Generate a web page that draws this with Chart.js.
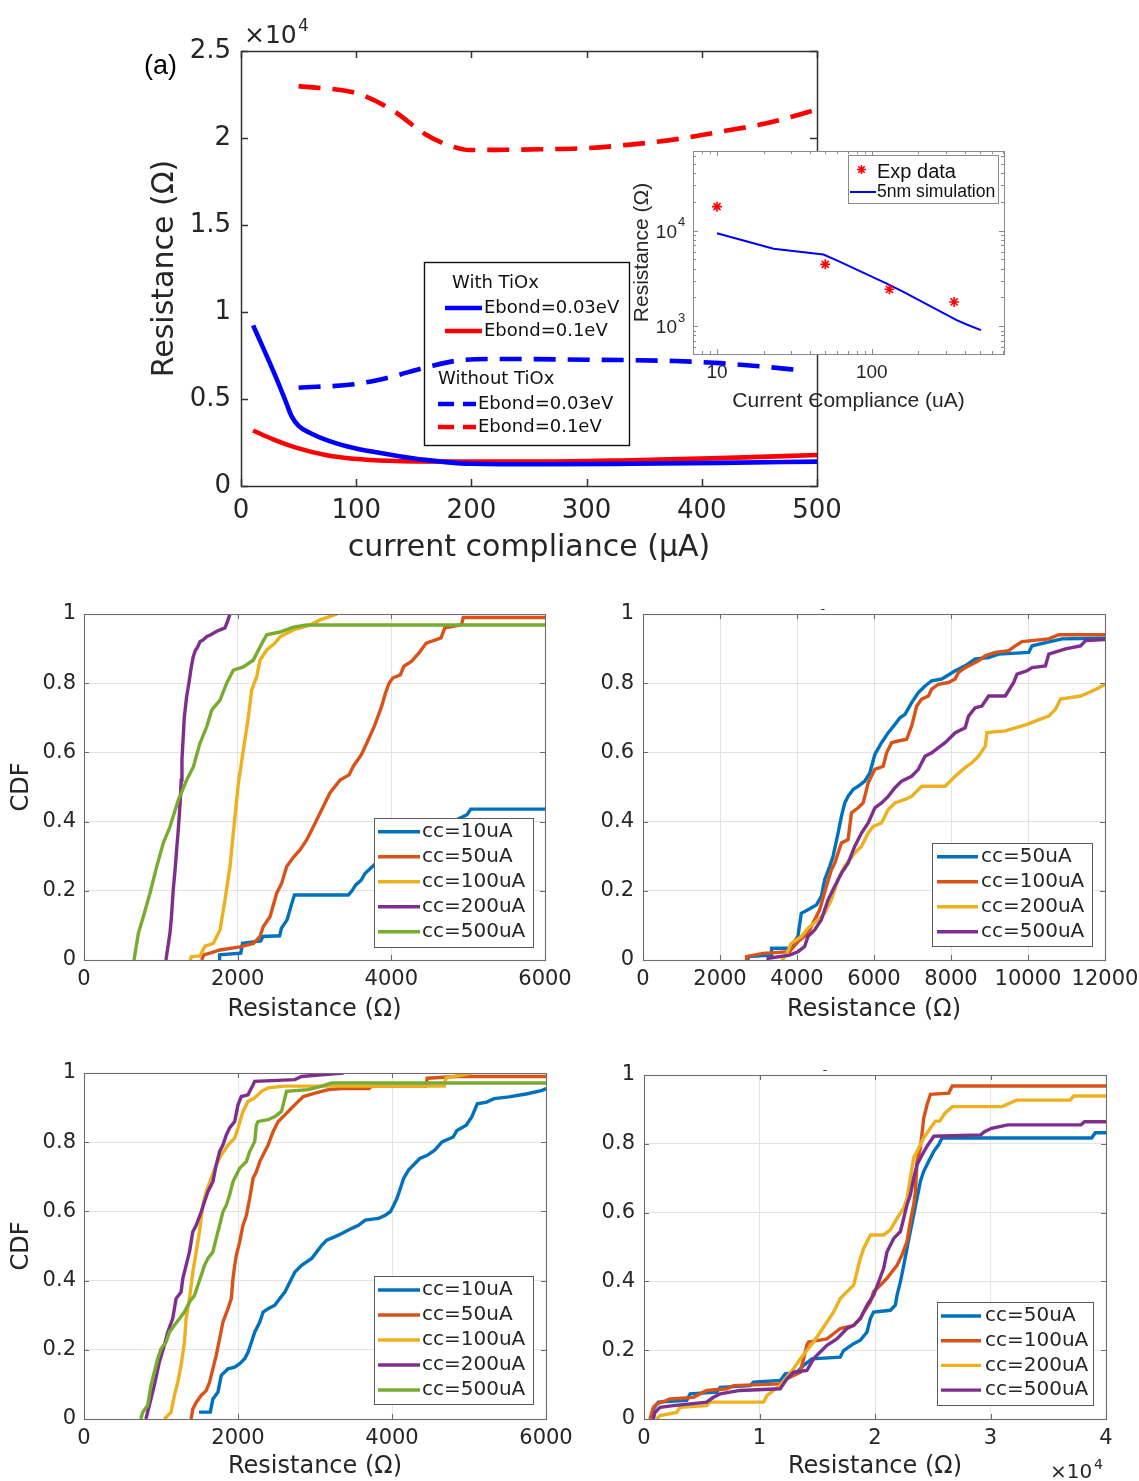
<!DOCTYPE html>
<html>
<head>
<meta charset="utf-8">
<title>Resistance vs current compliance and CDF panels</title>
<script src="https://cdn.jsdelivr.net/npm/chart.js@4.4.1/dist/chart.umd.min.js"></script>
<style>
  html, body { margin: 0; padding: 0; background: #ffffff; }
  #page { position: relative; width: 1139px; height: 1481px; overflow: hidden; background: #ffffff; }
  #page canvas { position: absolute; left: 0; top: 0; }
</style>
</head>
<body>
<div id="page">
  <canvas id="cMain" width="1139" height="1481"></canvas>
  <canvas id="cB" width="1139" height="1481"></canvas>
  <canvas id="cC" width="1139" height="1481"></canvas>
  <canvas id="cD" width="1139" height="1481"></canvas>
  <canvas id="cE" width="1139" height="1481"></canvas>
  <canvas id="cInset" width="1139" height="1481"></canvas>
</div>
<script>
// ---------------------------------------------------------------
// (a) Resistance (x1e4 ohm) versus current compliance (uA)
// ---------------------------------------------------------------
const ccWithTiOx003 = [10.5, 20, 30, 38, 44, 50, 60, 75, 98, 129, 160, 199, 261, 338, 416, 500];
const rWithTiOx003  = [0.923, 0.782, 0.63, 0.50, 0.40, 0.345, 0.305, 0.262, 0.218, 0.181, 0.150, 0.128, 0.125, 0.128, 0.133, 0.140];
const ccWithTiOx01  = [10.5, 28, 47, 74.5, 98, 129, 183, 261, 338, 416, 500];
const rWithTiOx01   = [0.319, 0.268, 0.222, 0.177, 0.157, 0.145, 0.140, 0.140, 0.148, 0.160, 0.178];
const ccNoTiOx003   = [50, 98, 129, 160, 195, 222, 300, 377, 416, 455, 486];
const rNoTiOx003    = [0.565, 0.585, 0.625, 0.681, 0.726, 0.730, 0.726, 0.718, 0.706, 0.685, 0.665];
const ccNoTiOx01    = [50, 102, 133, 160, 179, 199, 222, 261, 300, 338, 377, 416, 455, 500];
const rNoTiOx01     = [2.298, 2.254, 2.153, 2.022, 1.962, 1.931, 1.932, 1.935, 1.942, 1.962, 1.992, 2.036, 2.083, 2.163];
const mainXTicks = [0, 100, 200, 300, 400, 500];
const mainYTicks = [0, 0.5, 1, 1.5, 2, 2.5];

// Inset: log-log resistance vs compliance
const expCC   = [10, 50, 130, 340];
const expR    = [17800, 4430, 2430, 1790];
const simCC   = [10, 23.2, 48.7, 59.4, 125, 160, 353, 410, 507];
const simR    = [9380, 6440, 5620, 4870, 2780, 2280, 1155, 1040, 908];
const insetXMajor = [10, 100];
const insetXMinor = [8, 9, 20, 30, 40, 50, 60, 70, 80, 90, 200, 300, 400, 500, 600, 700];
const insetYMajor = [1000, 10000];
const insetYMinor = [600, 700, 800, 900, 2000, 3000, 4000, 5000, 6000, 7000, 8000, 9000, 20000, 30000, 40000, 50000, 60000];

// ---------------------------------------------------------------
// CDF panels: [resistance, cumulative fraction] pairs
// ---------------------------------------------------------------
const namesB = ['cc=10uA', 'cc=50uA', 'cc=100uA', 'cc=200uA', 'cc=500uA'];
const cdfB10 = [[1758,0],[1765,0.015],[2040,0.02],[2063,0.048],[2300,0.055],[2329,0.068],[2546,0.07],[2570,0.092],[2643,0.116],[2700,0.16],[2739,0.188],[3440,0.188],[3488,0.2],[3536,0.217],[3609,0.231],[3657,0.25],[3730,0.265],[3900,0.3],[4200,0.34],[4500,0.37],[4800,0.4],[4985,0.42],[5034,0.436],[6000,0.436]];
const cdfB50 = [[1531,0],[1560,0.015],[1640,0.02],[1770,0.029],[2030,0.038],[2204,0.048],[2291,0.068],[2334,0.097],[2421,0.125],[2508,0.193],[2573,0.222],[2638,0.27],[2725,0.297],[2811,0.318],[2898,0.347],[2985,0.385],[3071,0.424],[3201,0.483],[3332,0.52],[3450,0.535],[3505,0.56],[3609,0.593],[3681,0.627],[3778,0.675],[3874,0.733],[3923,0.771],[3971,0.80],[4019,0.815],[4116,0.824],[4164,0.849],[4261,0.863],[4358,0.887],[4454,0.916],[4647,0.931],[4696,0.96],[4913,0.969],[4937,0.99],[6000,0.99]];
const cdfB100 = [[1380,0],[1400,0.01],[1510,0.012],[1575,0.04],[1683,0.048],[1770,0.087],[1835,0.173],[1900,0.27],[1965,0.414],[2009,0.51],[2074,0.607],[2139,0.702],[2182,0.78],[2247,0.818],[2291,0.867],[2378,0.896],[2486,0.916],[2551,0.934],[2725,0.954],[2941,0.968],[3071,0.983],[3295,1.0]];
const cdfB200 = [[1067,0],[1080,0.02],[1100,0.05],[1120,0.08],[1140,0.13],[1160,0.2],[1185,0.26],[1206,0.32],[1225,0.37],[1241,0.42],[1255,0.47],[1265,0.52],[1275,0.58],[1290,0.64],[1305,0.7],[1335,0.76],[1365,0.8],[1395,0.845],[1420,0.875],[1450,0.895],[1480,0.905],[1510,0.92],[1550,0.925],[1600,0.935],[1650,0.94],[1727,0.95],[1835,0.96],[1870,0.98],[1900,1.0]];
const cdfB500 = [[651,0],[707,0.077],[772,0.125],[859,0.193],[946,0.27],[1032,0.338],[1119,0.385],[1227,0.462],[1336,0.52],[1423,0.558],[1510,0.627],[1597,0.674],[1662,0.722],[1770,0.751],[1857,0.80],[1944,0.838],[2074,0.847],[2204,0.867],[2291,0.905],[2378,0.94],[2551,0.948],[2725,0.962],[2898,0.968],[6000,0.968]];

const namesC = ['cc=50uA', 'cc=100uA', 'cc=200uA', 'cc=500uA'];
const cdfC50 = [[2721,0],[2740,0.01],[3329,0.014],[3340,0.034],[3807,0.034],[4024,0.068],[4111,0.135],[4285,0.145],[4502,0.159],[4632,0.184],[4719,0.232],[4850,0.271],[4937,0.30],[5067,0.367],[5154,0.415],[5241,0.454],[5327,0.473],[5458,0.493],[5588,0.502],[5762,0.517],[5892,0.541],[6022,0.594],[6196,0.628],[6370,0.657],[6544,0.681],[6674,0.70],[6805,0.71],[6978,0.744],[7152,0.773],[7326,0.792],[7499,0.807],[7760,0.812],[8108,0.836],[8368,0.85],[8629,0.87],[8977,0.874],[9237,0.884],[10019,0.889],[10106,0.908],[10887,0.928],[12000,0.93]];
const cdfC100 = [[2678,0],[2690,0.01],[3112,0.019],[3807,0.024],[4024,0.053],[4285,0.077],[4459,0.116],[4589,0.145],[4763,0.213],[4893,0.261],[4980,0.28],[5067,0.309],[5154,0.338],[5327,0.348],[5414,0.425],[5588,0.44],[5718,0.454],[5849,0.512],[6022,0.551],[6240,0.56],[6327,0.599],[6457,0.628],[6631,0.633],[6848,0.638],[6978,0.676],[7109,0.734],[7239,0.754],[7413,0.763],[7499,0.783],[7673,0.797],[7934,0.802],[8108,0.812],[8195,0.831],[8368,0.845],[8542,0.855],[8716,0.865],[8890,0.879],[9150,0.889],[9497,0.894],[9671,0.908],[9845,0.92],[10540,0.928],[10800,0.94],[12000,0.94]];
const cdfC200 = [[3600,0],[3700,0.01],[3851,0.048],[4111,0.068],[4285,0.092],[4545,0.116],[4719,0.135],[4893,0.174],[5067,0.232],[5241,0.271],[5501,0.309],[5675,0.329],[5849,0.367],[5979,0.386],[6196,0.396],[6370,0.435],[6544,0.454],[6805,0.464],[6978,0.473],[7239,0.502],[7847,0.502],[8108,0.531],[8368,0.556],[8542,0.57],[8716,0.589],[8890,0.618],[8933,0.657],[9411,0.662],[9671,0.671],[9975,0.681],[10323,0.696],[10540,0.705],[10714,0.725],[10844,0.754],[11366,0.763],[11583,0.773],[11844,0.787],[12000,0.797]];
const cdfC500 = [[3242,0],[3250,0.005],[3807,0.014],[4024,0.024],[4198,0.039],[4285,0.068],[4459,0.087],[4632,0.116],[4806,0.174],[4980,0.213],[5154,0.251],[5327,0.28],[5501,0.329],[5675,0.367],[5849,0.396],[6022,0.44],[6196,0.454],[6370,0.473],[6544,0.498],[6718,0.517],[6978,0.531],[7152,0.551],[7326,0.589],[7499,0.599],[7673,0.614],[7847,0.628],[8108,0.657],[8368,0.671],[8455,0.705],[8629,0.729],[8803,0.734],[8977,0.763],[9411,0.763],[9628,0.802],[9715,0.826],[9975,0.836],[10106,0.845],[10453,0.85],[10540,0.884],[10974,0.899],[11366,0.908],[11496,0.923],[12000,0.926]];

const namesD = ['cc=10uA', 'cc=50uA', 'cc=100uA', 'cc=200uA', 'cc=500uA'];
const cdfD10 = [[1494,0.02],[1640,0.02],[1674,0.058],[1739,0.077],[1783,0.126],[1870,0.145],[1957,0.15],[2022,0.16],[2087,0.174],[2130,0.193],[2174,0.222],[2217,0.251],[2283,0.28],[2326,0.309],[2391,0.319],[2478,0.329],[2543,0.348],[2609,0.367],[2674,0.396],[2739,0.425],[2826,0.444],[2891,0.454],[2957,0.464],[3022,0.483],[3087,0.502],[3152,0.517],[3261,0.527],[3348,0.536],[3478,0.551],[3565,0.56],[3652,0.575],[3826,0.58],[3913,0.589],[3978,0.599],[4022,0.618],[4065,0.638],[4109,0.667],[4152,0.696],[4217,0.72],[4304,0.74],[4361,0.753],[4458,0.762],[4554,0.777],[4650,0.801],[4795,0.815],[4843,0.834],[4964,0.849],[5036,0.873],[5108,0.911],[5229,0.916],[5325,0.926],[5518,0.931],[5759,0.94],[5952,0.95],[6000,0.955]];
const cdfD50 = [[1391,0],[1413,0.029],[1457,0.048],[1522,0.068],[1587,0.082],[1630,0.106],[1674,0.145],[1717,0.184],[1761,0.232],[1804,0.28],[1870,0.319],[1913,0.348],[1935,0.406],[1957,0.444],[1978,0.473],[2022,0.512],[2065,0.56],[2109,0.589],[2152,0.638],[2196,0.696],[2239,0.715],[2283,0.744],[2348,0.773],[2391,0.792],[2457,0.831],[2522,0.86],[2609,0.879],[2696,0.899],[2783,0.918],[2848,0.932],[3000,0.942],[3174,0.952],[3348,0.955],[3700,0.955],[3735,0.962],[4440,0.962],[4458,0.985],[4843,0.99],[6000,0.99]];
const cdfD100 = [[1043,0],[1130,0.019],[1174,0.068],[1217,0.106],[1261,0.155],[1304,0.222],[1326,0.29],[1370,0.348],[1413,0.425],[1457,0.483],[1500,0.541],[1543,0.618],[1587,0.657],[1652,0.696],[1717,0.734],[1783,0.763],[1870,0.792],[1957,0.812],[2000,0.841],[2065,0.889],[2130,0.918],[2217,0.928],[2304,0.947],[2391,0.957],[2600,0.962],[4680,0.962],[4700,0.985],[4800,0.99],[5036,1.0]];
const cdfD200 = [[804,0],[870,0.058],[913,0.097],[978,0.164],[1043,0.213],[1087,0.251],[1152,0.29],[1196,0.348],[1261,0.367],[1283,0.406],[1326,0.444],[1370,0.483],[1413,0.541],[1457,0.56],[1522,0.599],[1565,0.628],[1609,0.657],[1674,0.686],[1717,0.734],[1761,0.773],[1804,0.792],[1848,0.821],[1891,0.841],[1957,0.86],[2000,0.908],[2043,0.932],[2130,0.937],[2196,0.966],[2217,0.976],[2739,0.981],[2826,0.99],[3087,0.995],[3373,1.0]];
const cdfD500 = [[739,0],[761,0.019],[826,0.039],[870,0.097],[913,0.135],[957,0.174],[1000,0.203],[1065,0.222],[1109,0.251],[1174,0.271],[1239,0.29],[1304,0.309],[1370,0.338],[1435,0.357],[1478,0.386],[1522,0.415],[1565,0.444],[1609,0.464],[1674,0.483],[1717,0.522],[1761,0.56],[1804,0.599],[1848,0.618],[1891,0.647],[1935,0.686],[1978,0.705],[2022,0.725],[2109,0.744],[2152,0.773],[2217,0.802],[2239,0.85],[2261,0.86],[2391,0.865],[2478,0.874],[2565,0.889],[2609,0.928],[2630,0.947],[2913,0.952],[3087,0.962],[3217,0.971],[6000,0.971]];

// panel E resistance is in units of 1e4 ohm
const namesE = ['cc=50uA', 'cc=100uA', 'cc=200uA', 'cc=500uA'];
const cdfE50 = [[0.066,0],[0.081,0.029],[0.124,0.049],[0.37,0.054],[0.399,0.073],[0.63,0.078],[0.659,0.092],[0.919,0.097],[0.948,0.107],[1.179,0.112],[1.223,0.131],[1.324,0.136],[1.382,0.156],[1.454,0.175],[1.699,0.18],[1.728,0.199],[1.815,0.219],[1.873,0.229],[1.931,0.253],[1.96,0.292],[1.988,0.311],[2.133,0.316],[2.176,0.331],[2.191,0.36],[2.22,0.399],[2.249,0.447],[2.277,0.496],[2.306,0.545],[2.335,0.593],[2.364,0.642],[2.393,0.691],[2.422,0.72],[2.465,0.749],[2.509,0.778],[2.552,0.798],[2.581,0.817],[3.876,0.817],[3.907,0.832],[4,0.832]];
const cdfE100 = [[0.052,0],[0.081,0.034],[0.11,0.044],[0.197,0.054],[0.225,0.058],[0.428,0.063],[0.543,0.083],[0.717,0.088],[0.775,0.097],[1.179,0.102],[1.237,0.117],[1.353,0.136],[1.41,0.214],[1.425,0.224],[1.584,0.233],[1.699,0.263],[1.815,0.272],[1.873,0.292],[1.902,0.311],[1.96,0.34],[1.988,0.37],[2.046,0.389],[2.104,0.409],[2.147,0.428],[2.191,0.447],[2.234,0.477],[2.277,0.516],[2.306,0.574],[2.335,0.623],[2.35,0.661],[2.364,0.749],[2.393,0.788],[2.422,0.875],[2.451,0.914],[2.48,0.944],[2.638,0.947],[2.669,0.968],[4,0.968]];
const cdfE200 = [[0.11,0],[0.139,0.01],[0.283,0.019],[0.312,0.034],[0.543,0.039],[0.572,0.049],[1.035,0.049],[1.064,0.068],[1.121,0.083],[1.179,0.097],[1.237,0.122],[1.295,0.146],[1.353,0.175],[1.41,0.199],[1.468,0.224],[1.526,0.253],[1.584,0.282],[1.642,0.311],[1.699,0.35],[1.757,0.37],[1.815,0.389],[1.844,0.428],[1.873,0.467],[1.902,0.496],[1.96,0.535],[2.075,0.535],[2.133,0.55],[2.191,0.584],[2.249,0.613],[2.277,0.642],[2.306,0.7],[2.335,0.759],[2.379,0.788],[2.422,0.817],[2.48,0.846],[2.523,0.866],[2.56,0.866],[2.606,0.889],[2.669,0.908],[3.102,0.908],[3.164,0.918],[3.226,0.927],[3.69,0.927],[3.721,0.939],[4,0.939]];
const cdfE500 = [[0.081,0],[0.095,0.019],[0.139,0.034],[0.254,0.039],[0.543,0.049],[0.601,0.063],[0.659,0.073],[0.832,0.083],[1.179,0.088],[1.237,0.117],[1.295,0.136],[1.41,0.141],[1.468,0.175],[1.526,0.195],[1.584,0.214],[1.67,0.233],[1.757,0.263],[1.815,0.272],[1.873,0.292],[1.931,0.331],[1.988,0.36],[2.032,0.399],[2.075,0.438],[2.104,0.486],[2.162,0.525],[2.22,0.545],[2.249,0.584],[2.277,0.623],[2.306,0.652],[2.335,0.7],[2.364,0.739],[2.408,0.768],[2.451,0.793],[2.509,0.822],[2.916,0.826],[2.947,0.835],[3.009,0.845],[3.149,0.855],[3.783,0.855],[3.814,0.864],[4,0.864]];

// ---------------------------------------------------------------
// Shared styling
// ---------------------------------------------------------------
const PAGE_W = 1139, PAGE_H = 1481;
const INK = '#262626';
const GRID = '#e3e3e3';
const SANS = '"DejaVu Sans", "Noto Sans", sans-serif';
const ARIAL = '"Liberation Sans", Arial, sans-serif';
const LINES = ['#0072BD', '#D95319', '#EDB120', '#7E2F8E', '#77AC30'];

// tick text without trailing zeros: 0, 0.2, 1, 1.5, 2000
const plainNumber = (v) => String(Math.round(v * 1000) / 1000);

// padding that puts the plot area at a fixed spot on the page
function placeArea(area, yBand, xBand) {
  return { padding: { left: area.l - yBand, top: area.t, right: PAGE_W - area.r, bottom: PAGE_H - area.b - xBand } };
}

function xAxis(c) {
  const ax = {
    type: c.type || 'linear', position: 'bottom', min: c.min, max: c.max,
    ticks: {
      autoSkip: false, maxRotation: 0, minRotation: 0, padding: c.pad, color: INK,
      font: { family: c.family || SANS, size: c.size },
      callback: plainNumber
    },
    grid: { display: !!c.grid, color: GRID, lineWidth: 1, drawTicks: false },
    border: { display: false },
    title: { display: !!c.title, text: c.title, color: INK, font: { family: c.titleFamily || SANS, size: c.titleSize }, padding: 0 },
    afterFit: (s) => { s.height = c.band; s.paddingLeft = 0; s.paddingRight = 0; }
  };
  if (c.step) ax.ticks.stepSize = c.step;
  if (c.only) ax.afterBuildTicks = (s) => { s.ticks = c.only.map(v => ({ value: v })); };
  return ax;
}

function yAxis(c) {
  const ax = {
    type: c.type || 'linear', position: 'left', min: c.min, max: c.max,
    ticks: {
      display: c.labels !== false, autoSkip: false, padding: c.pad, color: INK,
      font: { family: c.family || SANS, size: c.size },
      callback: plainNumber
    },
    grid: { display: !!c.grid, color: GRID, lineWidth: 1, drawTicks: false },
    border: { display: false },
    title: { display: !!c.title, text: c.title, color: INK, font: { family: c.titleFamily || SANS, size: c.titleSize }, padding: 0 },
    afterFit: (s) => { s.width = c.band; s.paddingTop = 0; s.paddingBottom = 0; }
  };
  if (c.step) ax.ticks.stepSize = c.step;
  if (c.only) ax.afterBuildTicks = (s) => { s.ticks = c.only.map(v => ({ value: v })); };
  return ax;
}

// box around the plot area with inward tick marks on all four sides
function framePlugin(cfg) {
  return {
    id: 'frame',
    beforeDraw(chart) {
      if (!cfg.fill) return;
      const a = chart.chartArea, ctx = chart.ctx;
      ctx.save();
      ctx.fillStyle = cfg.fill;
      ctx.fillRect(a.left, a.top, a.right - a.left, a.bottom - a.top);
      ctx.restore();
    },
    afterDatasetsDraw(chart) {
      const { ctx, chartArea: a } = chart;
      const sx = chart.scales.x, sy = chart.scales.y;
      ctx.save();
      ctx.strokeStyle = cfg.color;
      ctx.lineWidth = cfg.width;
      ctx.beginPath();
      const xMarks = (vals, len) => vals.forEach(v => {
        const p = Math.round(sx.getPixelForValue(v)) + 0.5;
        ctx.moveTo(p, a.bottom); ctx.lineTo(p, a.bottom - len);
        ctx.moveTo(p, a.top); ctx.lineTo(p, a.top + len);
      });
      const yMarks = (vals, len) => vals.forEach(v => {
        const p = Math.round(sy.getPixelForValue(v)) + 0.5;
        ctx.moveTo(a.left, p); ctx.lineTo(a.left + len, p);
        ctx.moveTo(a.right, p); ctx.lineTo(a.right - len, p);
      });
      xMarks(sx.ticks.map(t => t.value), cfg.tick);
      yMarks(sy.ticks.map(t => t.value), cfg.tick);
      if (cfg.minorX) xMarks(cfg.minorX, cfg.minorTick);
      if (cfg.minorY) yMarks(cfg.minorY, cfg.minorTick);
      ctx.stroke();
      ctx.strokeRect(Math.round(a.left) + 0.5, Math.round(a.top) + 0.5,
                     Math.round(a.right - a.left), Math.round(a.bottom - a.top));
      ctx.restore();
    }
  };
}

// legend box listing every dataset with a line sample
function keyPlugin(k) {
  return {
    id: 'key',
    afterDatasetsDraw(chart) {
      const ctx = chart.ctx;
      ctx.save();
      ctx.fillStyle = '#ffffff';
      ctx.fillRect(k.x, k.y, k.w, k.h);
      ctx.strokeStyle = k.edge;
      ctx.lineWidth = 1;
      ctx.strokeRect(k.x + 0.5, k.y + 0.5, k.w, k.h);
      ctx.font = k.font;
      ctx.textBaseline = 'middle';
      ctx.textAlign = 'left';
      chart.data.datasets.forEach((ds, i) => {
        const yy = k.row0 + i * k.step;
        ctx.strokeStyle = ds.borderColor;
        ctx.lineWidth = ds.borderWidth;
        ctx.beginPath(); ctx.moveTo(k.x0, yy); ctx.lineTo(k.x1, yy); ctx.stroke();
        ctx.fillStyle = INK;
        ctx.fillText(ds.label, k.tx, yy);
      });
      ctx.restore();
    }
  };
}

// free-standing text: panel letter, axis multipliers
function notesPlugin(items) {
  return {
    id: 'notes',
    afterDraw(chart) {
      const ctx = chart.ctx;
      items.forEach(n => {
        ctx.save();
        ctx.font = n.font;
        ctx.fillStyle = n.color || INK;
        ctx.textAlign = n.align || 'left';
        ctx.textBaseline = n.base || 'alphabetic';
        ctx.fillText(n.text, n.x, n.y);
        ctx.restore();
      });
    }
  };
}

const baseOptions = {
  responsive: false, animation: false, devicePixelRatio: 1, events: [],
};

// ---------------------------------------------------------------
// (a) main chart
// ---------------------------------------------------------------
(function () {
  const area = { l: 241, r: 817, t: 51, b: 486 };
  const yBand = 94, xBand = 80;
  const toXY = (xs, ys) => xs.map((x, i) => ({ x: x, y: ys[i] }));
  const legendItems = [
    { header: 'With TiOx', x: 452, y: 283 },
    { ds: 0, x0: 445, x1: 482, tx: 484, y: 308 },
    { ds: 1, x0: 445, x1: 482, tx: 484, y: 331 },
    { header: 'Without TiOx', x: 438, y: 379 },
    { ds: 2, x0: 438, x1: 476, tx: 478, y: 404, dash: [16, 9] },
    { ds: 3, x0: 438, x1: 476, tx: 478, y: 427, dash: [16, 9] }
  ];
  const tioxKey = {
    id: 'tioxKey',
    afterDatasetsDraw(chart) {
      const ctx = chart.ctx;
      ctx.save();
      ctx.strokeStyle = '#111111';
      ctx.lineWidth = 1.4;
      ctx.strokeRect(424.5, 262.5, 205, 183);
      ctx.font = '18px ' + SANS;
      ctx.textBaseline = 'middle';
      ctx.textAlign = 'left';
      ctx.fillStyle = '#111111';
      legendItems.forEach(it => {
        if (it.header) { ctx.fillText(it.header, it.x, it.y); return; }
        const ds = chart.data.datasets[it.ds];
        ctx.strokeStyle = ds.borderColor;
        ctx.lineWidth = ds.borderWidth;
        ctx.setLineDash(it.dash || []);
        ctx.beginPath(); ctx.moveTo(it.x0, it.y); ctx.lineTo(it.x1, it.y); ctx.stroke();
        ctx.setLineDash([]);
        ctx.fillText(ds.label, it.tx, it.y);
      });
      ctx.restore();
    }
  };
  const common = { pointRadius: 0, borderWidth: 4.6, fill: false, tension: 0.4, cubicInterpolationMode: 'monotone' };
  new Chart(document.getElementById('cMain'), {
    type: 'line',
    data: {
      datasets: [
        Object.assign({ label: 'Ebond=0.03eV', data: toXY(ccWithTiOx003, rWithTiOx003), borderColor: '#0000ff' }, common),
        Object.assign({ label: 'Ebond=0.1eV', data: toXY(ccWithTiOx01, rWithTiOx01), borderColor: '#ff0000' }, common),
        Object.assign({ label: 'Ebond=0.03eV', data: toXY(ccNoTiOx003, rNoTiOx003), borderColor: '#0000ff', borderDash: [22, 12] }, common),
        Object.assign({ label: 'Ebond=0.1eV', data: toXY(ccNoTiOx01, rNoTiOx01), borderColor: '#ff0000', borderDash: [22, 12] }, common)
      ]
    },
    options: Object.assign({}, baseOptions, {
      layout: placeArea(area, yBand, xBand),
      plugins: { legend: { display: false }, tooltip: { enabled: false } },
      scales: {
        x: xAxis({ min: 0, max: 500, only: mainXTicks, pad: 10, size: 26, title: 'current compliance (\u03bcA)', titleSize: 30, band: xBand }),
        y: yAxis({ min: 0, max: 2.5, only: mainYTicks, pad: 10, size: 26, title: 'Resistance (\u03a9)', titleSize: 30, band: yBand })
      }
    }),
    plugins: [
      framePlugin({ color: '#333333', width: 1.5, tick: 7 }),
      tioxKey,
      notesPlugin([
        { text: '(a)', x: 144, y: 74, font: '27px ' + ARIAL, color: '#000000' },
        { text: '\u00d710', x: 244, y: 43, font: '25px ' + SANS },
        { text: '4', x: 298, y: 31, font: '17px ' + SANS }
      ])
    ]
  });
})();

// ---------------------------------------------------------------
// CDF panels
// ---------------------------------------------------------------
function cdfPanel(id, cfg) {
  const datasets = cfg.series.map((s, i) => ({
    label: cfg.names[i], data: s, borderColor: LINES[i], borderWidth: 3.4,
    pointRadius: 0, tension: 0, fill: false, order: -i
  }));
  new Chart(document.getElementById(id), {
    type: 'line',
    data: { datasets: datasets },
    options: Object.assign({}, baseOptions, {
      layout: placeArea(cfg.area, cfg.yBand, cfg.xBand),
      plugins: { legend: { display: false }, tooltip: { enabled: false } },
      scales: {
        x: xAxis({ min: 0, max: cfg.xMax, step: cfg.xStep, pad: 7.4, size: 21, grid: true, title: 'Resistance (\u03a9)', titleSize: 24, band: cfg.xBand }),
        y: yAxis({ min: 0, max: 1, step: 0.2, pad: cfg.yPad, size: 21, grid: true, title: cfg.yTitle, titleSize: 24, band: cfg.yBand })
      }
    }),
    plugins: [
      framePlugin({ color: '#6e6e6e', width: 1.1, tick: 5 }),
      keyPlugin(cfg.key),
      notesPlugin(cfg.notes || [])
    ]
  });
}

cdfPanel('cB', {
  area: { l: 84, r: 545, t: 614, b: 960 }, yBand: 76.4, xBand: 64.4, yPad: 8, yTitle: 'CDF',
  xMax: 6000, xStep: 2000, names: namesB, series: [cdfB10, cdfB50, cdfB100, cdfB200, cdfB500],
  key: { x: 374, y: 818, w: 159, h: 129, row0: 831.7, step: 25, x0: 378, x1: 420, tx: 422, font: '20px ' + SANS, edge: '#5a5a5a' }
});

cdfPanel('cC', {
  area: { l: 643, r: 1105, t: 614, b: 960 }, yBand: 60, xBand: 64.4, yPad: 9, yTitle: '',
  xMax: 12000, xStep: 2000, names: namesC, series: [cdfC50, cdfC100, cdfC200, cdfC500],
  key: { x: 932, y: 843, w: 160, h: 103, row0: 856.7, step: 25, x0: 937, x1: 978, tx: 981, font: '20px ' + SANS, edge: '#5a5a5a' },
  notes: [{ text: '-', x: 823, y: 610, font: '12px ' + SANS, align: 'center', base: 'middle' }]
});

cdfPanel('cD', {
  area: { l: 84, r: 546, t: 1073, b: 1419 }, yBand: 76.4, xBand: 62.4, yPad: 8, yTitle: 'CDF',
  xMax: 6000, xStep: 2000, names: namesD, series: [cdfD10, cdfD50, cdfD100, cdfD200, cdfD500],
  key: { x: 374, y: 1276, w: 159, h: 128, row0: 1290, step: 25, x0: 378, x1: 420, tx: 422, font: '20px ' + SANS, edge: '#5a5a5a' }
});

cdfPanel('cE', {
  area: { l: 644, r: 1106, t: 1075, b: 1419 }, yBand: 60, xBand: 62.4, yPad: 9, yTitle: '',
  xMax: 4, xStep: 1, names: namesE, series: [cdfE50, cdfE100, cdfE200, cdfE500],
  key: { x: 937, y: 1302, w: 156, h: 103, row0: 1316, step: 24.7, x0: 941, x1: 981, tx: 985, font: '20px ' + SANS, edge: '#5a5a5a' },
  notes: [
    { text: '-', x: 825, y: 1071, font: '12px ' + SANS, align: 'center', base: 'middle' },
    { text: '\u00d710', x: 1050, y: 1478, font: '20px ' + SANS },
    { text: '4', x: 1094, y: 1469, font: '14px ' + SANS }
  ]
});

// ---------------------------------------------------------------
// Inset: log-log comparison of experiment and simulation
// ---------------------------------------------------------------
(function () {
  const area = { l: 693, r: 1004, t: 151, b: 354 };
  const yBand = 63.6, xBand = 60.1;
  const powLabels = {
    id: 'powLabels',
    afterDraw(chart) {
      const ctx = chart.ctx, sy = chart.scales.y;
      ctx.save();
      ctx.fillStyle = INK;
      insetYMajor.forEach(v => {
        const p = sy.getPixelForValue(v);
        const e = String(Math.round(Math.log10(v)));
        ctx.font = '19px ' + ARIAL; ctx.textAlign = 'right'; ctx.textBaseline = 'middle';
        ctx.fillText('10', 677, p + 2);
        ctx.font = '13px ' + ARIAL; ctx.textAlign = 'left';
        ctx.fillText(e, 678, p - 8);
      });
      ctx.restore();
    }
  };
  const insetKey = {
    id: 'insetKey',
    afterDatasetsDraw(chart) {
      const ctx = chart.ctx;
      const exp = chart.data.datasets[0], sim = chart.data.datasets[1];
      ctx.save();
      ctx.fillStyle = '#ffffff';
      ctx.fillRect(848, 155, 150, 48);
      ctx.strokeStyle = '#8a8a8a'; ctx.lineWidth = 1;
      ctx.strokeRect(848.5, 155.5, 150, 48);
      // asterisk marker sample
      const cx = 861.5, cy = 169.5, r = 4.5;
      ctx.strokeStyle = exp.pointBorderColor; ctx.lineWidth = exp.pointBorderWidth;
      ctx.beginPath();
      ctx.moveTo(cx - r, cy); ctx.lineTo(cx + r, cy);
      ctx.moveTo(cx, cy - r); ctx.lineTo(cx, cy + r);
      const d = r * 0.72;
      ctx.moveTo(cx - d, cy - d); ctx.lineTo(cx + d, cy + d);
      ctx.moveTo(cx - d, cy + d); ctx.lineTo(cx + d, cy - d);
      ctx.stroke();
      ctx.strokeStyle = sim.borderColor; ctx.lineWidth = sim.borderWidth;
      ctx.beginPath(); ctx.moveTo(850, 192); ctx.lineTo(876, 192); ctx.stroke();
      ctx.fillStyle = '#111111'; ctx.textAlign = 'left'; ctx.textBaseline = 'middle';
      ctx.font = '20px ' + ARIAL; ctx.fillText(exp.label, 877, 172);
      ctx.font = '17.6px ' + ARIAL; ctx.fillText(sim.label, 877, 192);
      ctx.restore();
    }
  };
  new Chart(document.getElementById('cInset'), {
    type: 'line',
    data: {
      datasets: [
        { label: 'Exp data', data: expCC.map((x, i) => ({ x: x, y: expR[i] })), showLine: false,
          pointStyle: 'star', pointRadius: 5, pointBorderWidth: 1.6, pointBorderColor: '#ff0000', pointBackgroundColor: '#ff0000', borderColor: '#ff0000' },
        { label: '5nm simulation', data: simCC.map((x, i) => ({ x: x, y: simR[i] })), borderColor: '#0000ff', borderWidth: 2, pointRadius: 0, tension: 0, fill: false }
      ]
    },
    options: Object.assign({}, baseOptions, {
      layout: placeArea(area, yBand, xBand),
      plugins: { legend: { display: false }, tooltip: { enabled: false } },
      scales: {
        x: xAxis({ type: 'logarithmic', min: 7, max: 714, only: insetXMajor, pad: 7.6, size: 19, family: ARIAL, title: 'Current Compliance (uA)', titleFamily: ARIAL, titleSize: 21, band: xBand }),
        y: yAxis({ type: 'logarithmic', min: 511, max: 68000, only: insetYMajor, labels: false, size: 19, family: ARIAL, title: 'Resistance (\u03a9)', titleFamily: ARIAL, titleSize: 21, band: yBand })
      }
    }),
    plugins: [
      framePlugin({ color: '#8a8a8a', width: 1, tick: 5, minorTick: 3, minorX: insetXMinor, minorY: insetYMinor, fill: '#ffffff' }),
      insetKey,
      powLabels
    ]
  });
})();
</script>
</body>
</html>
